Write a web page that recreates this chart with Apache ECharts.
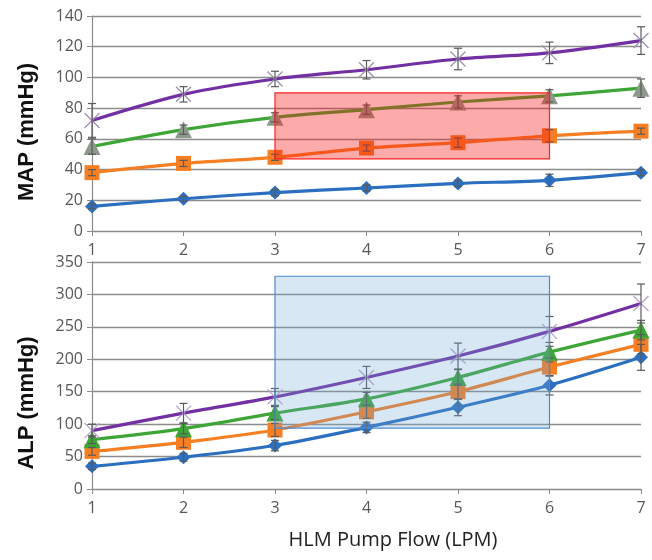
<!DOCTYPE html>
<html>
<head>
<meta charset="utf-8">
<script src="https://cdn.jsdelivr.net/npm/echarts@6/dist/echarts.min.js"></script>
<style>
  html, body { margin: 0; padding: 0; background: #fff; }
  #chart { width: 652px; height: 560px; }
</style>
</head>
<body>
<div id="chart"></div>
<script>
// Pump flow (LPM) on the x axis
const flows = [1, 2, 3, 4, 5, 6, 7];

// Mean arterial pressure (mmHg), four groups, with error half-widths
const mapBlue = [16, 21, 25, 28, 31, 33, 38];
const mapOrange = [38, 44, 48, 54, 57.5, 62, 65];
const mapGreen = [55, 66, 74, 79, 84, 88, 93];
const mapPurple = [72, 89, 99, 105, 112, 116, 124];
const mapBlueErr = [1.5, 1.5, 2, 2, 2, 4, 2];
const mapOrangeErr = [2, 2, 2, 2, 3, 4, 2];
const mapGreenErr = [5, 3, 3, 3, 4, 4, 6];
const mapPurpleErr = [11, 5, 5, 6, 7, 7, 9];

// Arterial line pressure (mmHg)
const alpBlue = [35, 49, 67, 95, 126, 160, 203];
const alpOrange = [58, 72, 91, 119, 150, 188, 223];
const alpGreen = [76, 93, 117, 139, 172, 211, 245];
const alpPurple = [90, 117, 142, 172, 205, 243, 286];
const alpBlueErr = [5, 6, 8, 8, 13, 15, 20];
const alpOrangeErr = [6, 8, 10, 10, 12, 14, 15];
const alpGreenErr = [6, 8, 10, 10, 12, 15, 15];
const alpPurpleErr = [10, 15, 13, 17, 20, 23, 30];

// Highlighted operating windows: [flowFrom, pressureLow, flowTo, pressureHigh]
const mapWindow = [3, 47, 6, 90];
const alpWindow = [3, 94, 6, 328];

// Axis ranges
const mapTicks = { min: 0, max: 140, interval: 20 };
const alpTicks = { min: 0, max: 350, interval: 50 };

const BLUE = '#2b6fc0', ORANGE = '#f57f22', GREEN = '#3ea636', PURPLE = '#7230a3';
const TXT = '#585858';
const FONT = '"Open Sans", "Liberation Sans", sans-serif';

const xMark = 'path://M0,0L10,10M10,0L0,10';

function lineSeries(idx, data, color, symbol, size, symColor) {
  return {
    type: 'line', xAxisIndex: idx, yAxisIndex: idx,
    data: flows.map((f, i) => [f, data[i]]),
    smooth: 0.3, z: 3,
    lineStyle: { color: color, width: 3.2 },
    symbol: symbol, symbolSize: size,
    itemStyle: symbol === xMark
      ? { color: 'none', borderColor: symColor, borderWidth: 1.3, opacity: 1 }
      : { color: symColor, borderWidth: 0 },
    emphasis: { disabled: true }
  };
}

function errSeries(idx, data, err) {
  return {
    type: 'custom', xAxisIndex: idx, yAxisIndex: idx, z: 4,
    data: flows.map((f, i) => [f, data[i] - err[i], data[i] + err[i]]),
    encode: { x: 0, y: [1, 2] },
    renderItem: function (params, api) {
      const top = api.coord([api.value(0), api.value(2)]);
      const bot = api.coord([api.value(0), api.value(1)]);
      const w = 4;
      const st = { stroke: '#5a5a5a', lineWidth: 1.2 };
      return {
        type: 'group', children: [
          { type: 'line', shape: { x1: top[0], y1: top[1], x2: bot[0], y2: bot[1] }, style: st },
          { type: 'line', shape: { x1: top[0] - w, y1: top[1], x2: top[0] + w, y2: top[1] }, style: st },
          { type: 'line', shape: { x1: bot[0] - w, y1: bot[1], x2: bot[0] + w, y2: bot[1] }, style: st }
        ]
      };
    }
  };
}

function windowSeries(idx, box, fill, stroke) {
  return {
    type: 'custom', xAxisIndex: idx, yAxisIndex: idx, z: 10,
    data: [box],
    encode: { x: [0, 2], y: [1, 3] },
    renderItem: function (params, api) {
      const p0 = api.coord([api.value(0), api.value(3)]);
      const p1 = api.coord([api.value(2), api.value(1)]);
      return {
        type: 'rect',
        shape: { x: p0[0], y: p0[1], width: p1[0] - p0[0], height: p1[1] - p0[1] },
        style: { fill: fill, stroke: stroke, lineWidth: 1.2 }
      };
    }
  };
}

function xAxis(idx) {
  return {
    type: 'value', gridIndex: idx, min: 1, max: 7, interval: 1,
    axisLine: { lineStyle: { color: '#8a8a8a', width: 1.2 } },
    axisTick: { show: true, length: 5, lineStyle: { color: '#8a8a8a' } },
    splitLine: { show: false },
    axisLabel: { color: TXT, fontSize: 16, fontFamily: FONT, margin: 11 }
  };
}

function yAxis(idx, t) {
  return {
    type: 'value', gridIndex: idx, min: t.min, max: t.max, interval: t.interval,
    axisLine: { show: true, lineStyle: { color: '#8a8a8a', width: 1.2 } },
    axisTick: { show: true, length: 5, lineStyle: { color: '#8a8a8a' } },
    splitLine: { show: true, lineStyle: { color: '#8c8c8c', width: 1.3 } },
    axisLabel: { color: TXT, fontSize: 16, fontFamily: FONT, margin: 9 }
  };
}

function sideTitle(text, cx, cy) {
  return {
    type: 'text', x: cx, y: cy, rotation: Math.PI / 2,
    style: { text: text, fill: '#111', font: 'bold 22px "Liberation Sans", Arial, sans-serif',
      align: 'center', verticalAlign: 'middle' }
  };
}

const chart = echarts.init(document.getElementById('chart'), null, { renderer: 'canvas' });
chart.setOption({
  backgroundColor: '#fff',
  animation: false,
  grid: [
    { left: 92, right: 11, top: 16, height: 215 },
    { left: 92, right: 11, top: 262, height: 227 }
  ],
  xAxis: [xAxis(0), xAxis(1)],
  yAxis: [yAxis(0, mapTicks), yAxis(1, alpTicks)],
  graphic: [
    sideTitle('MAP (mmHg)', 27, 132),
    sideTitle('ALP (mmHg)', 27, 403),
    { type: 'text', x: 393, y: 540,
      style: { text: 'HLM Pump Flow (LPM)', fill: '#222', font: '20px ' + FONT,
        align: 'center', verticalAlign: 'middle' } }
  ],
  series: [
    lineSeries(0, mapBlue, BLUE, 'diamond', 14, BLUE),
    lineSeries(0, mapOrange, ORANGE, 'rect', 15, ORANGE),
    lineSeries(0, mapGreen, GREEN, 'triangle', 17, '#8d998b'),
    lineSeries(0, mapPurple, PURPLE, xMark, 15, '#9d92ab'),
    errSeries(0, mapBlue, mapBlueErr),
    errSeries(0, mapOrange, mapOrangeErr),
    errSeries(0, mapGreen, mapGreenErr),
    errSeries(0, mapPurple, mapPurpleErr),
    windowSeries(0, mapWindow, 'rgba(250,20,20,0.36)', '#ff2020'),

    lineSeries(1, alpBlue, BLUE, 'diamond', 14, BLUE),
    lineSeries(1, alpOrange, ORANGE, 'rect', 15, ORANGE),
    lineSeries(1, alpGreen, GREEN, 'triangle', 17, GREEN),
    lineSeries(1, alpPurple, PURPLE, xMark, 15, '#b7a0cf'),
    errSeries(1, alpBlue, alpBlueErr),
    errSeries(1, alpOrange, alpOrangeErr),
    errSeries(1, alpGreen, alpGreenErr),
    errSeries(1, alpPurple, alpPurpleErr),
    windowSeries(1, alpWindow, 'rgba(110,165,215,0.27)', '#4a8ad6')
  ]
});
</script>
</body>
</html>
